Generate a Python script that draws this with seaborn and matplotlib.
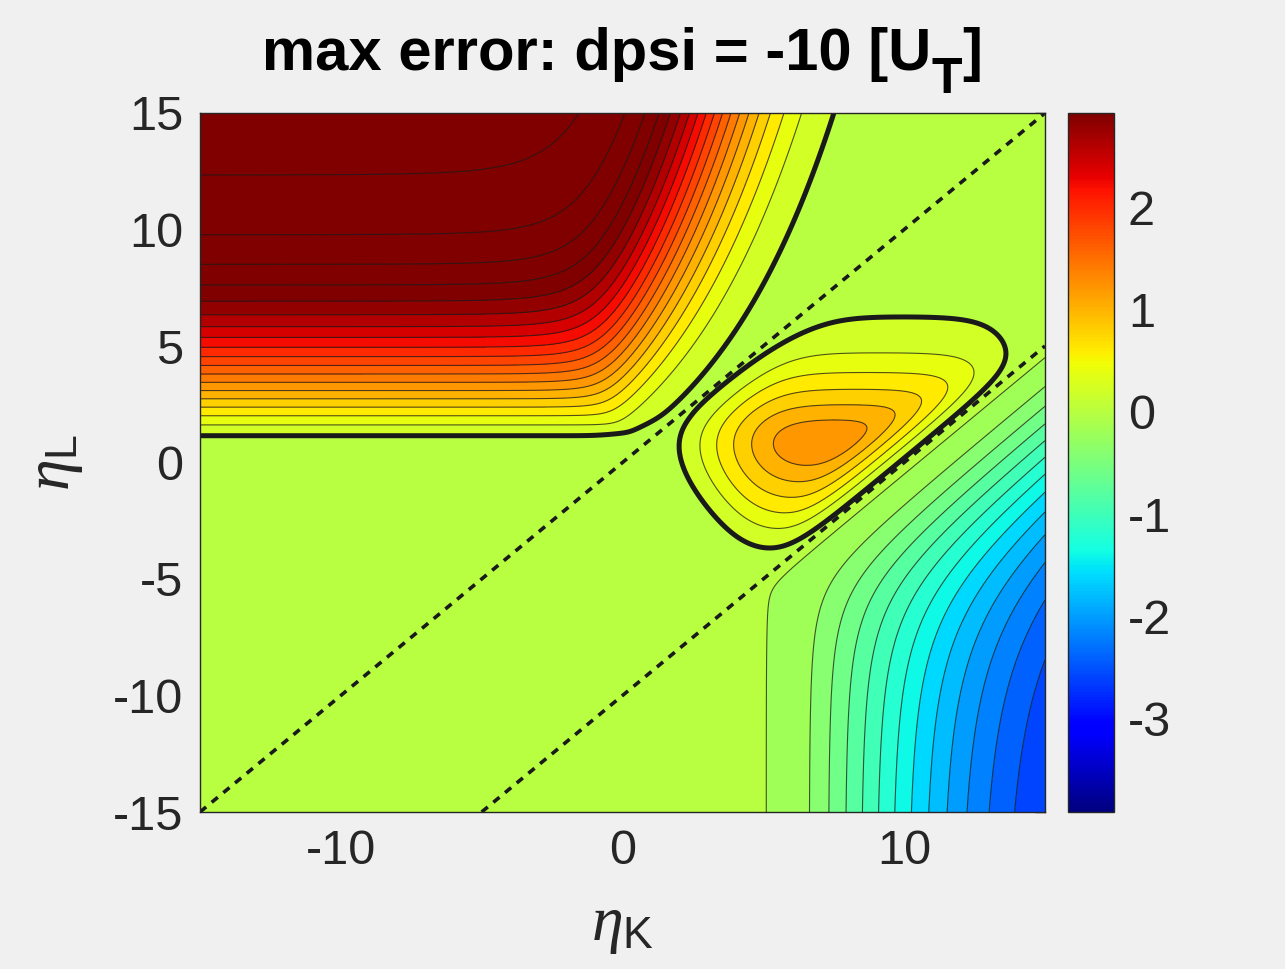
import numpy as np
import pandas as pd
import matplotlib
matplotlib.use("Agg")
import matplotlib.pyplot as plt
import seaborn as sns
from matplotlib.colors import Normalize
from matplotlib.cm import ScalarMappable

# ---------------- values ----------------
title_parts = ["max error: dpsi = -10 [U", "T", "]"]   # "T" is a subscript
x_label = r"$\eta_\mathrm{K}$"
y_label = r"$\eta_\mathrm{L}$"
dpsi = -10.0
eta_lim = [-15.0, 15.0]
x_ticks = [-10, 0, 10]
y_ticks = [-15, -10, -5, 0, 5, 10, 15]
cbar_ticks = [-3, -2, -1, 0, 1, 2]
color_limits = [-3.91, 2.92]
level_step = 0.2
background_value = -0.05

# region A (upper-left plateau)
A_peak = 3.75
A_floor = 1.0                    # horizontal arm of the zero line (eta_L ~ 1.16)
A_wall = [4.78, 3.0, 3.75]       # zero line  eta_K = 4.78 ln((eta_L+3)/3.75)
A_wall_gain = [0.16, 0.25, 0.13]
A_profile = [0.12, 1.19]
A_corner = [0.16, 0.6, 1.0]      # rounding of the zero line's knee

# region B (central lobe, max ~1.15)
B_side_pos = [0.2, -9.8, 6.1, 1.7, -3.9, 14.0, 1.6]
B_side_gain = [0.95, 1.4, 0.27, 1.0, 0.82, 0.8, 0.9]
B_top_curve = [0.18, 1.6]
B_gain = 0.36
B_round = 0.6

# region C (lower-right trough, min ~-2.75)
C_wall = 3.8
C_main = [3.2, 0.076, 1.25, 2.1]   # amplitude, gain, power, start
C_skirt = [0.18, 1.0, 0.2]         # amplitude, position, width
C_diag = [1.6, 0.8, 5.0]


def sp(x, w):
    return w * np.logaddexp(0.0, x / w)


K = np.linspace(eta_lim[0], eta_lim[1], 601)
L = np.linspace(eta_lim[0], eta_lim[1], 601)
KK, LL = np.meshgrid(K, L)

with np.errstate(all="ignore"):
    # ---- region A
    u_raw = LL - A_floor
    up = sp(u_raw, 0.08)
    psi = A_wall[0] * np.log(sp(LL + A_wall[1], 0.3) / A_wall[2])
    t = psi - KK
    dz_eff = sp(A_wall_gain[0] + A_wall_gain[1] * t, 0.05) + A_wall_gain[2] * sp(t, 0.1) ** 2
    gA = (up ** -4 + dz_eff ** -4) ** -0.25
    gA = np.nan_to_num(gA, nan=0.0)
    gA = gA - A_corner[0] * np.exp(-(u_raw / A_corner[1]) ** 2 - (t / A_corner[2]) ** 2)
    gA = np.clip(gA, 0.0, None)
    A = A_peak * np.tanh(A_profile[0] * gA ** A_profile[1])

    # ---- region B
    p = B_side_pos
    a = B_side_gain
    x_top = p[2] - LL
    d = np.stack([
        a[0] * (KK - LL - p[0]),
        a[1] * (LL - KK - p[1]),
        a[2] * x_top + B_top_curve[0] * sp(x_top, 0.5) ** B_top_curve[1],
        a[3] * (KK - p[3]),
        a[4] * (LL - p[4]),
        a[5] * (p[5] - KK),
        a[6] * (KK + 0.68 * LL - p[6]),
    ])
    gB = -B_round * np.logaddexp.reduce(-d / B_round, axis=0)
    B = B_gain * sp(gB, 0.22)

    # ---- region C
    uc = sp(KK - C_wall, 0.3)
    dc = sp(KK + dpsi - LL, 0.15)
    dc_eff = dc + C_diag[0] * np.tanh(dc / C_diag[1]) * np.exp(-dc / C_diag[2])
    gC = (uc ** -3 + dc_eff ** -3) ** (-1.0 / 3)
    gC = np.nan_to_num(gC, nan=0.0)
    main = C_main[0] * np.tanh(C_main[1] * sp(gC - C_main[3], 0.3) ** C_main[2])
    skirt = C_skirt[0] / (1.0 + np.exp(-(gC - C_skirt[1]) / C_skirt[2]))
    C = -(main + skirt)

F = A + B + C + background_value

# ---------------- drawing ----------------
sns.set_theme(style="white")
plt.rcParams["font.family"] = ["Liberation Sans", "DejaVu Sans"]
plt.rcParams["mathtext.fontset"] = "custom"
plt.rcParams["mathtext.rm"] = "Liberation Sans"
plt.rcParams["mathtext.it"] = "Liberation Serif:italic"
plt.rcParams["mathtext.bf"] = "Liberation Sans:bold"
plt.rcParams["axes.unicode_minus"] = False

W, H = 1285, 969
fig = plt.figure(figsize=(W / 100, H / 100), dpi=100, facecolor="#f0f0f0")
ax = fig.add_axes([200 / W, 1 - 812 / H, 845 / W, 699 / H])
cax = fig.add_axes([1068 / W, 1 - 812 / H, 46 / W, 699 / H])

norm = Normalize(vmin=color_limits[0], vmax=color_limits[1])
# each band takes the colour of its upper level
fill_norm = Normalize(vmin=color_limits[0] - level_step / 2, vmax=color_limits[1] - level_step / 2)
levels = level_step * np.arange(-20, 20)
ax.contourf(KK, LL, F, levels=levels, cmap="jet", norm=fill_norm)
thin = levels[np.abs(levels) > 1e-9]
ax.contour(KK, LL, F, levels=thin, colors="k", linewidths=0.8, alpha=0.75,
           linestyles="solid")
ax.contour(KK, LL, F, levels=[0.0], colors="k", linewidths=3.6, linestyles="solid")

diag = pd.DataFrame({"K": [eta_lim[0], eta_lim[1]], "L": [eta_lim[0], eta_lim[1]]})
shift = pd.DataFrame({"K": [eta_lim[0] - dpsi, eta_lim[1]], "L": [eta_lim[0], eta_lim[1] + dpsi]})
for df in (diag, shift):
    sns.lineplot(data=df, x="K", y="L", ax=ax, color="k", linewidth=2.6,
                 linestyle=(0, (2.2, 2.0)), sort=False, estimator=None)

ax.set_xlim(eta_lim)
ax.set_ylim(eta_lim)
ax.set_xticks(x_ticks)
ax.set_yticks(y_ticks)
ax.tick_params(direction="in", length=7, width=1, top=True, right=True,
               labelsize=35, colors="#262626", pad=12)
for s in ax.spines.values():
    s.set_color("#262626")
    s.set_linewidth(1.0)
ax.set_xlabel(x_label, fontsize=46, color="#262626", labelpad=16)
ax.set_ylabel(y_label, fontsize=46, color="#262626", labelpad=20)

# title with a large, lowered subscript (as in the reference)
renderer = fig.canvas.get_renderer()
base_y = 1 - 70 / H
sub_y = 1 - 93 / H
pieces = []
x_cur = 0.0
for txt, yy, fs in zip(title_parts, [base_y, sub_y, base_y], [43, 36, 43]):
    tt = fig.text(x_cur, yy, txt, fontsize=fs, fontweight="bold", color="black",
                  ha="left", va="baseline")
    bb = tt.get_window_extent(renderer)
    x_cur += bb.width / W
    pieces.append(tt)
x_start = (622 / W) - x_cur / 2
xx = x_start
for tt in pieces:
    bb = tt.get_window_extent(renderer)
    tt.set_x(xx)
    xx += bb.width / W

sm = ScalarMappable(norm=norm, cmap="jet")
cb = fig.colorbar(sm, cax=cax, ticks=cbar_ticks)
cb.ax.tick_params(direction="in", length=6, width=1, labelsize=35,
                  colors="#262626", pad=10)
cb.outline.set_edgecolor("#262626")
cb.outline.set_linewidth(1.0)

fig.savefig("out.png", dpi=100, facecolor=fig.get_facecolor())
